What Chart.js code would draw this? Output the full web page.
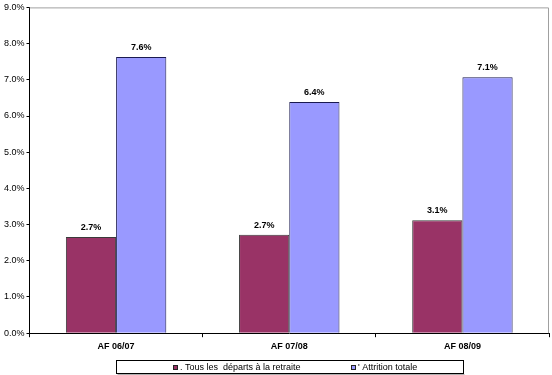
<!DOCTYPE html>
<html>
<head>
<meta charset="utf-8">
<script src="https://cdn.jsdelivr.net/npm/chart.js@4"></script>
<style>
  html, body { margin: 0; padding: 0; background: #fff; }
  #wrap { width: 552px; height: 375px; }
</style>
</head>
<body>
<div id="wrap"><canvas id="chart" width="552" height="375"></canvas></div>
<script>
const categories = ["AF 06/07", "AF 07/08", "AF 08/09"];
const retraite = [2.66, 2.72, 3.12];
const attrition = [7.63, 6.39, 7.07];
const seriesNames = [". Tous les  départs à la retraite", "' Attrition totale"];
const yTicks = [0, 1, 2, 3, 4, 5, 6, 7, 8, 9];

const FONT = "'Liberation Sans', Arial, sans-serif";

// gray frame on top/right of plot area
const framePlugin = {
  id: "frame",
  beforeDatasetsDraw(chart) {
    const { ctx, chartArea: a } = chart;
    ctx.save();
    ctx.strokeStyle = "#a0a0a0";
    ctx.lineWidth = 1;
    ctx.beginPath();
    ctx.moveTo(a.left, a.top + 0.5);
    ctx.lineTo(a.right - 0.5, a.top + 0.5);
    ctx.lineTo(a.right - 0.5, a.bottom);
    ctx.stroke();
    ctx.restore();
  }
};

// value labels above bars
const valueLabels = {
  id: "valueLabels",
  afterDatasetsDraw(chart) {
    const { ctx } = chart;
    ctx.save();
    ctx.font = "bold 9px " + FONT;
    ctx.fillStyle = "#000";
    ctx.textAlign = "center";
    ctx.textBaseline = "bottom";
    chart.data.datasets.forEach((ds, i) => {
      chart.getDatasetMeta(i).data.forEach((bar, j) => {
        ctx.fillText(ds.data[j].toFixed(1) + "%", bar.x, bar.y - 5);
      });
    });
    ctx.restore();
  }
};

// boxed legend under the x axis
const boxLegend = {
  id: "boxLegend",
  afterDraw(chart) {
    const { ctx, chartArea: a } = chart;
    const cx = (a.left + a.right) / 2;
    const top = Math.round(a.bottom + 27) + 0.5;
    const w = 347, h = 13;
    const left = Math.round(cx - w / 2) + 0.5;
    ctx.save();
    ctx.strokeStyle = "#000";
    ctx.lineWidth = 1;
    ctx.strokeRect(left, top, w, h);
    ctx.strokeStyle = "#b0b0b0";
    ctx.beginPath();
    ctx.moveTo(left + 1, top + h + 1);
    ctx.lineTo(left + w + 1, top + h + 1);
    ctx.stroke();

    const offs = [-116, 61.5];
    ctx.font = "9px " + FONT;
    ctx.textBaseline = "middle";
    ctx.textAlign = "left";
    chart.data.datasets.forEach((ds, i) => {
      const x = Math.round(cx + offs[i]);
      const y = Math.round(top + 4);
      ctx.fillStyle = ds.backgroundColor;
      ctx.fillRect(x, y, 5, 5);
      ctx.strokeStyle = "#222";
      ctx.strokeRect(x + 0.5, y + 0.5, 4, 4);
      ctx.fillStyle = "#000";
      ctx.fillText(ds.label, x + 7, top + h / 2 + 0.5);
    });
    ctx.restore();
  }
};

new Chart(document.getElementById("chart"), {
  type: "bar",
  data: {
    labels: categories,
    datasets: [
      {
        label: seriesNames[0],
        data: retraite,
        backgroundColor: "#993366",
        borderColor: "#3a3a3a",
        borderWidth: 1,
        categoryPercentage: 0.58,
        barPercentage: 1
      },
      {
        label: seriesNames[1],
        data: attrition,
        backgroundColor: "#9999ff",
        borderColor: "#1a1a50",
        borderWidth: 1,
        categoryPercentage: 0.58,
        barPercentage: 1
      }
    ]
  },
  options: {
    responsive: false,
    animation: false,
    layout: { padding: { left: 2, right: 3, top: 4, bottom: 19 } },
    plugins: {
      tooltip: { enabled: false },
      legend: { display: false }
    },
    scales: {
      x: {
        grid: { display: true, drawOnChartArea: false, offset: true, tickLength: 4, color: "#000" },
        border: { color: "#000" },
        ticks: { font: { family: FONT, size: 9, weight: "bold" }, color: "#000", padding: 4 }
      },
      y: {
        min: 0,
        max: 9,
        afterBuildTicks(scale) { scale.ticks = yTicks.map(v => ({ value: v })); },
        grid: { display: true, drawOnChartArea: false, tickLength: 3, color: "#000" },
        border: { color: "#000" },
        ticks: {
          font: { family: FONT, size: 9 },
          color: "#000",
          padding: 2,
          callback: v => v.toFixed(1) + "%"
        }
      }
    }
  },
  plugins: [framePlugin, valueLabels, boxLegend]
});
</script>
</body>
</html>
